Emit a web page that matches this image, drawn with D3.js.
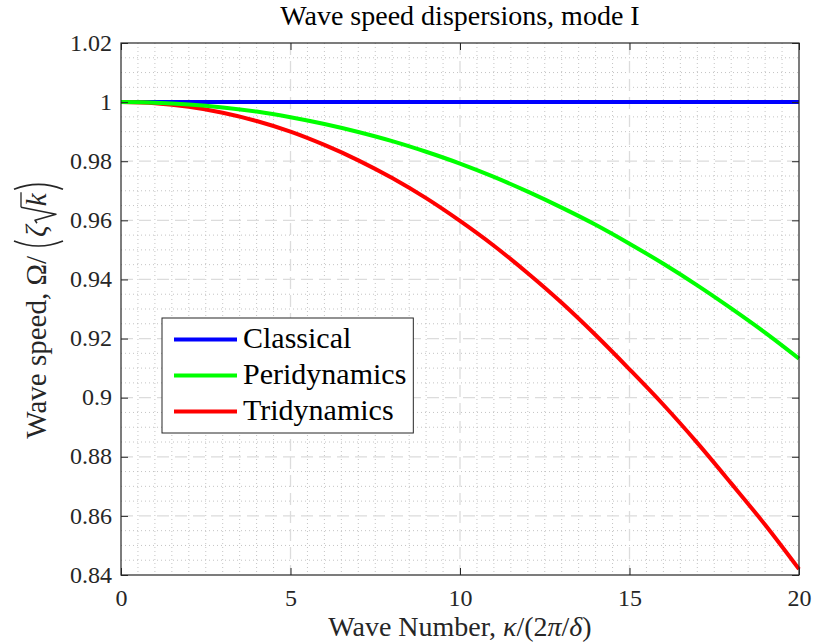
<!DOCTYPE html>
<html>
<head>
<meta charset="utf-8">
<script src="https://cdn.jsdelivr.net/npm/d3@7"></script>
<style>
  html, body { margin: 0; padding: 0; background: #ffffff; }
  svg { display: block; }
  svg text { font-family: "Liberation Serif", "DejaVu Serif", serif !important; }
</style>
</head>
<body>
<svg id="chart" width="815" height="642"></svg>
<script>
// Normalised wave number κ/(2π/δ)
const waveNumber = [0, 1, 2, 3, 4, 5, 6, 7, 8, 9, 10, 11, 12, 13, 14, 15, 16, 17, 18, 19, 20];

// Normalised wave speed Ω/(ζ√k) for each model
const classical = [1, 1, 1, 1, 1, 1, 1, 1, 1, 1, 1, 1, 1, 1, 1, 1, 1, 1, 1, 1, 1];
const peridynamics = [1.0000, 0.9998, 0.9992, 0.9982, 0.9968, 0.9949, 0.9926, 0.9899, 0.9868, 0.9832,
                      0.9792, 0.9747, 0.9697, 0.9643, 0.9585, 0.9521, 0.9453, 0.9380, 0.9302, 0.9220, 0.9132];
const tridynamics = [1.0000, 0.9996, 0.9984, 0.9964, 0.9936, 0.9900, 0.9855, 0.9803, 0.9743, 0.9675,
                     0.9598, 0.9514, 0.9421, 0.9321, 0.9212, 0.9096, 0.8976, 0.8847, 0.8710, 0.8570, 0.8420];

const seriesNames = ["Classical", "Peridynamics", "Tridynamics"];
const seriesColors = ["#0000ff", "#00ff00", "#ff0000"];

const xTicks = [0, 5, 10, 15, 20];
const xTickLabels = ["0", "5", "10", "15", "20"];
const yTicks = [0.84, 0.86, 0.88, 0.9, 0.92, 0.94, 0.96, 0.98, 1, 1.02];
const yTickLabels = ["0.84", "0.86", "0.88", "0.9", "0.92", "0.94", "0.96", "0.98", "1", "1.02"];

const titleText = "Wave speed dispersions, mode I";

const FONT = "'Liberation Serif', 'DejaVu Serif', serif";
const svg = d3.select("#chart").attr("font-family", FONT);
const W = 815, H = 642;
const plot = { left: 121, right: 799, top: 43, bottom: 575 };
const axisColor = "#262626";

const x = d3.scaleLinear().domain([0, 20]).range([plot.left, plot.right]);
const y = d3.scaleLinear().domain([0.84, 1.02]).range([plot.bottom, plot.top]);

svg.append("rect").attr("width", W).attr("height", H).attr("fill", "#ffffff");

// ---- grid: minor dotted, major dashed ----
const grid = svg.append("g");
const isMajorX = v => xTicks.some(t => Math.abs(t - v) < 1e-9);
const isMajorY = v => yTicks.some(t => Math.abs(t - v) < 1e-9);
const xMinor = d3.range(0, 20.0001, 0.5).filter(v => !isMajorX(v));
const yMinor = d3.range(0.84, 1.02001, 0.005).map(v => +v.toFixed(3)).filter(v => !isMajorY(v));

grid.selectAll(".xminor").data(xMinor).join("line")
  .attr("x1", d => x(d)).attr("x2", d => x(d))
  .attr("y1", plot.top).attr("y2", plot.bottom)
  .attr("stroke", "#c4c4c4").attr("stroke-width", 1)
  .attr("stroke-dasharray", "1,3");
grid.selectAll(".yminor").data(yMinor).join("line")
  .attr("y1", d => y(d)).attr("y2", d => y(d))
  .attr("x1", plot.left).attr("x2", plot.right)
  .attr("stroke", "#c4c4c4").attr("stroke-width", 1)
  .attr("stroke-dasharray", "1,3");
grid.selectAll(".xmajor").data(xTicks.slice(1, -1)).join("line")
  .attr("x1", d => x(d)).attr("x2", d => x(d))
  .attr("y1", plot.top).attr("y2", plot.bottom)
  .attr("stroke", "#dcdcdc").attr("stroke-width", 1.3)
  .attr("stroke-dasharray", "12,6");
grid.selectAll(".ymajor").data(yTicks.slice(1, -1)).join("line")
  .attr("y1", d => y(d)).attr("y2", d => y(d))
  .attr("x1", plot.left).attr("x2", plot.right)
  .attr("stroke", "#dcdcdc").attr("stroke-width", 1.3)
  .attr("stroke-dasharray", "12,6");

// ---- curves ----
const line = d3.line()
  .x((d, i) => x(waveNumber[i]))
  .y(d => y(d))
  .curve(d3.curveMonotoneX);

const curves = svg.append("g").attr("fill", "none").attr("stroke-width", 4)
  .attr("stroke-linejoin", "round");
// drawing order: classical, tridynamics, peridynamics
[[classical, 0], [tridynamics, 2], [peridynamics, 1]].forEach(([vals, k]) => {
  curves.append("path").attr("d", line(vals)).attr("stroke", seriesColors[k]);
});

// ---- axes ----
const tickLen = 7;
const gx = svg.append("g").attr("transform", `translate(0,${plot.bottom})`)
  .call(d3.axisBottom(x).tickValues(xTicks).tickFormat((d, i) => xTickLabels[i])
    .tickSizeInner(-tickLen).tickSizeOuter(0).tickPadding(14));
const gy = svg.append("g").attr("transform", `translate(${plot.left},0)`)
  .call(d3.axisLeft(y).tickValues(yTicks).tickFormat((d, i) => yTickLabels[i])
    .tickSizeInner(-tickLen).tickSizeOuter(0).tickPadding(9));
const gxTop = svg.append("g").attr("transform", `translate(0,${plot.top})`)
  .call(d3.axisTop(x).tickValues(xTicks).tickFormat("")
    .tickSizeInner(-tickLen).tickSizeOuter(0));
const gyRight = svg.append("g").attr("transform", `translate(${plot.right},0)`)
  .call(d3.axisRight(y).tickValues(yTicks).tickFormat("")
    .tickSizeInner(-tickLen).tickSizeOuter(0));

[gx, gy, gxTop, gyRight].forEach(g => {
  g.attr("font-family", FONT).attr("font-size", 24);
  g.select(".domain").remove();
  g.selectAll(".tick line").attr("stroke", axisColor).attr("stroke-width", 1);
  g.selectAll(".tick text").attr("fill", axisColor);
});
gy.selectAll(".tick text").attr("dy", "0.3em");

svg.append("rect")
  .attr("x", plot.left).attr("y", plot.top)
  .attr("width", plot.right - plot.left).attr("height", plot.bottom - plot.top)
  .attr("fill", "none").attr("stroke", axisColor).attr("stroke-width", 1.2);

// ---- title ----
svg.append("text")
  .attr("x", (plot.left + plot.right) / 2).attr("y", 25)
  .attr("text-anchor", "middle")
  .attr("fill", "#000")
  .attr("font-size", 28)
  .text(titleText);

// ---- x label ----
const xl = svg.append("text")
  .attr("x", (plot.left + plot.right) / 2).attr("y", 636)
  .attr("text-anchor", "middle")
  .attr("fill", axisColor)
  .attr("font-size", 28);
xl.append("tspan").text("Wave Number, ");
xl.append("tspan").attr("font-style", "italic").text("κ");
xl.append("tspan").text("/(2");
xl.append("tspan").attr("font-style", "italic").text("π");
xl.append("tspan").text("/");
xl.append("tspan").attr("font-style", "italic").text("δ");
xl.append("tspan").text(")");

// ---- y label: Wave speed, Ω/(ζ√k) ----
const F = 29;
const yl = svg.append("g")
  .attr("transform", `translate(46,${(plot.top + plot.bottom) / 2}) rotate(-90)`)
  .attr("fill", axisColor);
const inner = yl.append("g");
let u = 0;
function piece(str, italic) {
  const t = inner.append("text").attr("x", u).attr("y", 0)
    .attr("font-size", F)
    .attr("font-style", italic ? "italic" : "normal")
    .text(str);
  u += t.node().getComputedTextLength();
  return t;
}
piece("Wave speed, Ω/", false);
u += 6;
// left parenthesis
inner.append("path")
  .attr("d", `M${u + 9},-32 Q${u - 1},-7.5 ${u + 9},17`)
  .attr("fill", "none").attr("stroke", axisColor).attr("stroke-width", 1.6);
u += 13;
piece("ζ", true);
u += 2;
// radical sign with bar over k
const r0 = u;
inner.append("path")
  .attr("d", `M${r0},-9 L${r0 + 3},-11 L${r0 + 9},10 L${r0 + 16},-25`)
  .attr("fill", "none").attr("stroke", axisColor).attr("stroke-width", 1.5)
  .attr("stroke-linejoin", "round");
u += 17;
piece("k", true);
inner.append("line")
  .attr("x1", r0 + 16).attr("x2", u + 1)
  .attr("y1", -25).attr("y2", -25)
  .attr("stroke", axisColor).attr("stroke-width", 1.3);
u += 4;
// right parenthesis
inner.append("path")
  .attr("d", `M${u},-32 Q${u + 10},-7.5 ${u},17`)
  .attr("fill", "none").attr("stroke", axisColor).attr("stroke-width", 1.6);
u += 10;
inner.attr("transform", `translate(${-u / 2},0)`);

// ---- legend ----
const legend = svg.append("g");
const legLeft = 162, legTop = 318;
const rowY = [339.5, 375.5, 411.5];
const items = legend.selectAll(".item").data(seriesNames).join("g");
items.append("line")
  .attr("x1", 174).attr("x2", 237)
  .attr("y1", (d, i) => rowY[i]).attr("y2", (d, i) => rowY[i])
  .attr("stroke", (d, i) => seriesColors[i]).attr("stroke-width", 4);
const labels = items.append("text")
  .attr("x", 243).attr("y", (d, i) => rowY[i] + 8.5)
  .attr("fill", "#000")
  .attr("font-size", 30)
  .text(d => d);
const maxW = d3.max(labels.nodes(), n => n.getComputedTextLength());
legend.insert("rect", ":first-child")
  .attr("x", legLeft).attr("y", legTop)
  .attr("width", 243 + maxW + 7 - legLeft).attr("height", 433 - legTop)
  .attr("fill", "#ffffff").attr("stroke", axisColor).attr("stroke-width", 1);
</script>
</body>
</html>
